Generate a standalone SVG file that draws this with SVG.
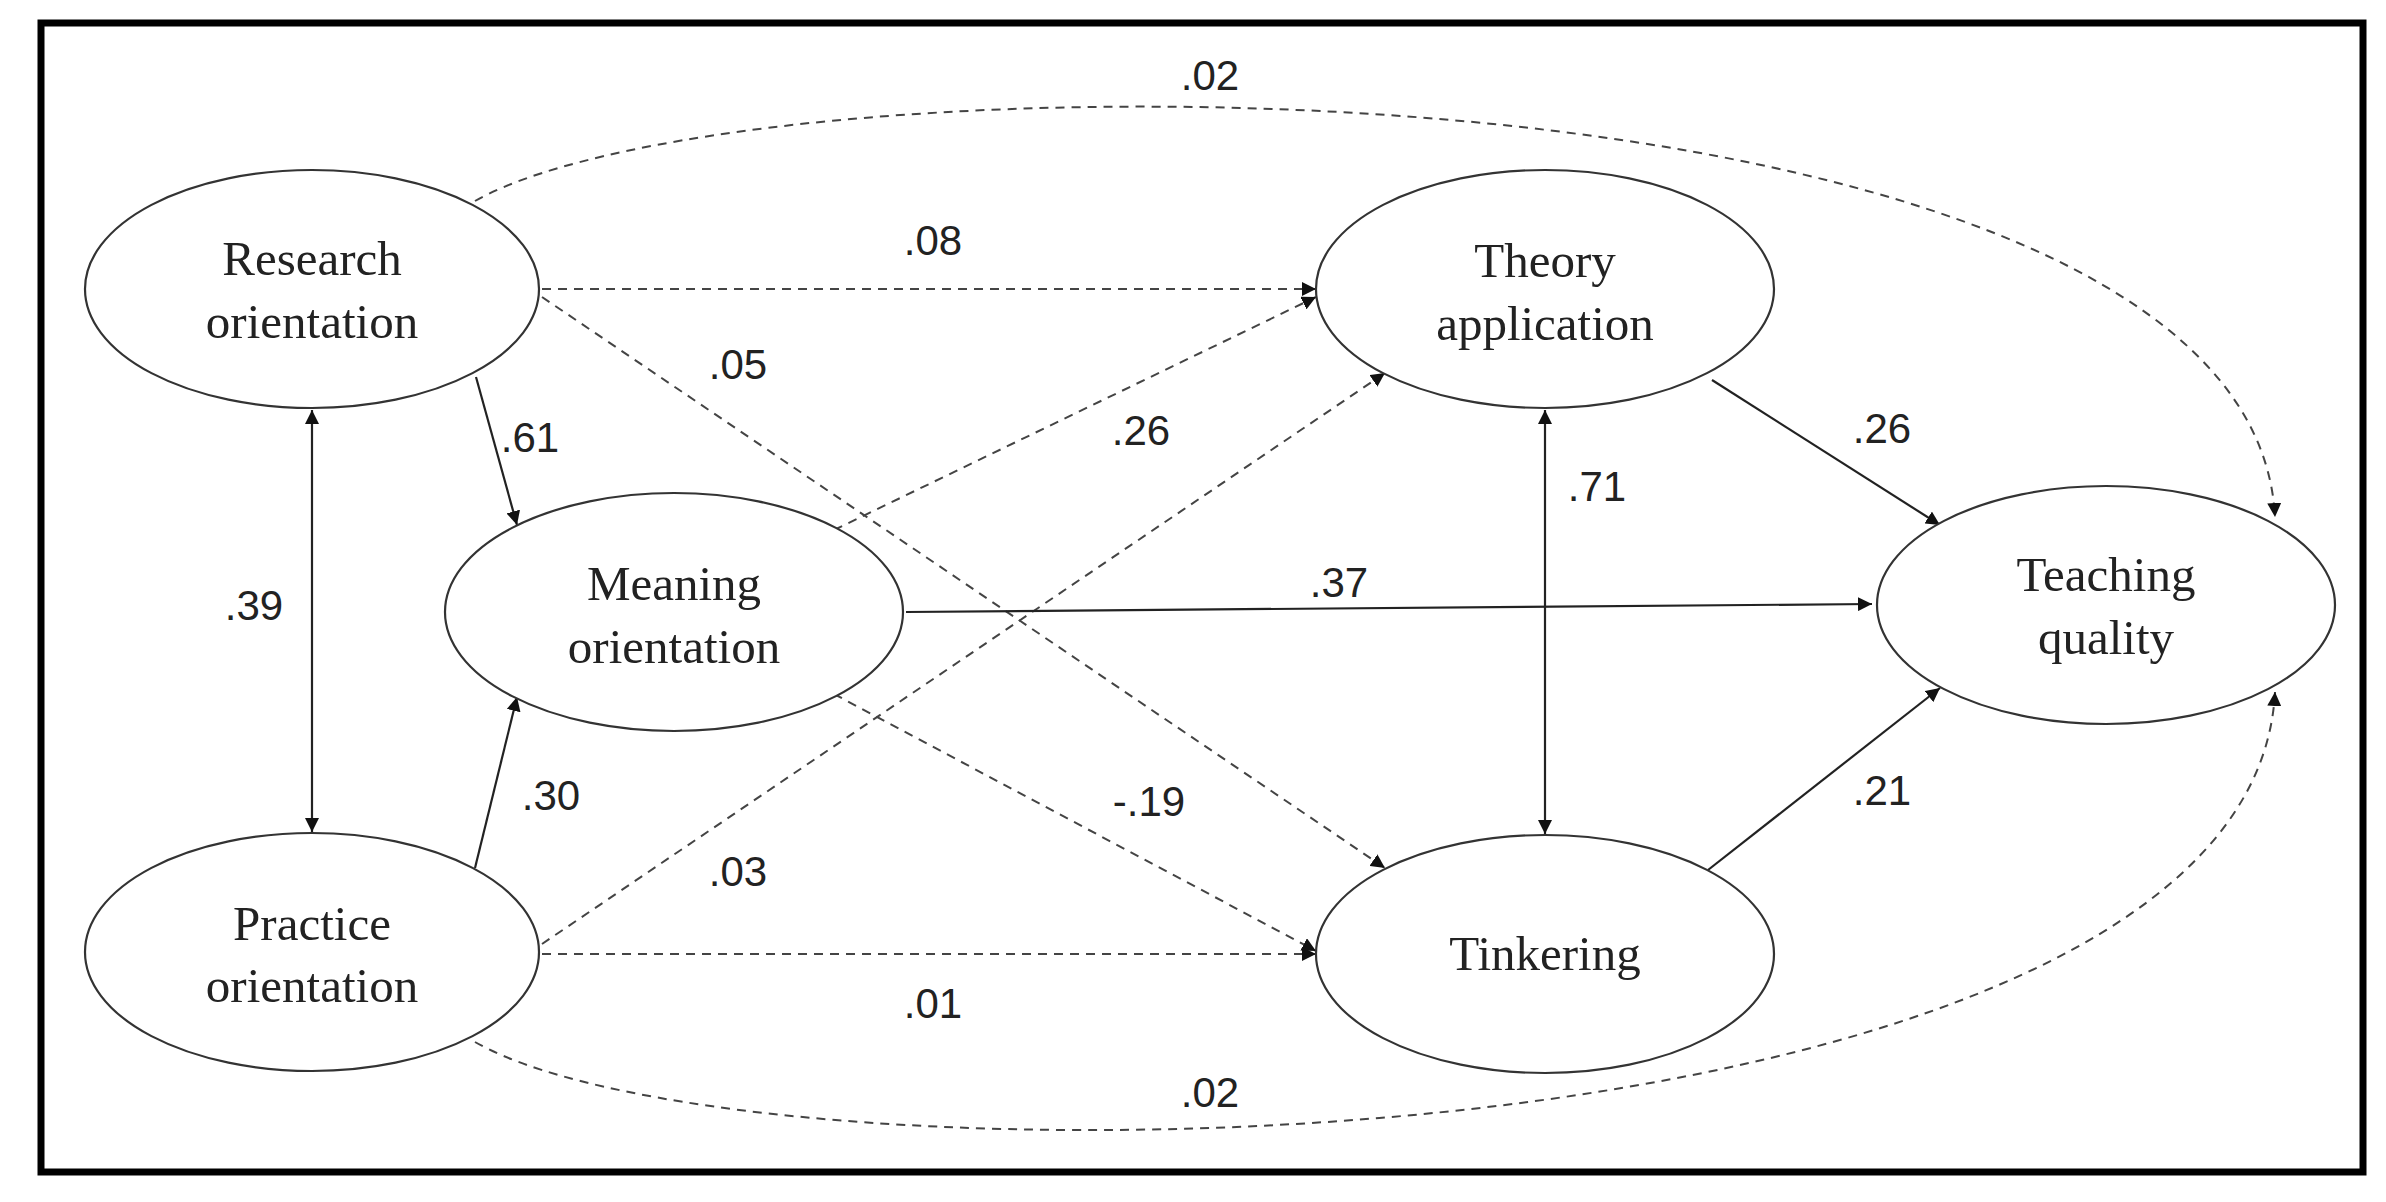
<svg xmlns="http://www.w3.org/2000/svg" width="2386" height="1202" viewBox="0 0 2386 1202">
<defs>
<marker id="ah" viewBox="0 0 10 10" refX="10" refY="5" markerWidth="14" markerHeight="14" markerUnits="userSpaceOnUse" orient="auto-start-reverse"><path d="M0,0 L10,5 L0,10 z" fill="#111"/></marker>
</defs>
<style>
.n{fill:#fff;stroke:#333;stroke-width:2.2}
.t{font-family:"Liberation Serif",serif;font-size:49px;fill:#222;text-anchor:middle}
.l{font-family:"Liberation Sans",sans-serif;font-size:42px;fill:#222;text-anchor:middle}
.s{fill:none;stroke:#222;stroke-width:2.2}
.d{fill:none;stroke:#444;stroke-width:2;stroke-dasharray:9 7}
</style>
<rect x="41" y="23" width="2322" height="1149" fill="#fff" stroke="#000" stroke-width="7"/>
<g id="connectors">
<path class="d" d="M475,201 C750,45 2250,40 2275,517" marker-end="url(#ah)"/>
<path class="d" d="M475,1042 C750,1200 2250,1180 2275,692" marker-end="url(#ah)"/>
<line class="s" x1="312" y1="410" x2="312" y2="832" marker-start="url(#ah)" marker-end="url(#ah)"/>
<line class="s" x1="476" y1="377" x2="517" y2="525" marker-end="url(#ah)"/>
<line class="s" x1="475" y1="868" x2="517" y2="697" marker-end="url(#ah)"/>
<line class="d" x1="542" y1="289" x2="1316" y2="289" marker-end="url(#ah)"/>
<line class="d" x1="542" y1="297" x2="1385" y2="868" marker-end="url(#ah)"/>
<line class="d" x1="834" y1="530" x2="1316" y2="297" marker-end="url(#ah)"/>
<line class="d" x1="542" y1="944" x2="1385" y2="373" marker-end="url(#ah)"/>
<line class="d" x1="834" y1="694" x2="1316" y2="951" marker-end="url(#ah)"/>
<line class="d" x1="542" y1="954" x2="1316" y2="954" marker-end="url(#ah)"/>
<line class="s" x1="906" y1="612" x2="1872" y2="604" marker-end="url(#ah)"/>
<line class="s" x1="1712" y1="380" x2="1940" y2="525" marker-end="url(#ah)"/>
<line class="s" x1="1708" y1="870" x2="1940" y2="688" marker-end="url(#ah)"/>
<line class="s" x1="1545" y1="410" x2="1545" y2="834" marker-start="url(#ah)" marker-end="url(#ah)"/>
<text class="l" x="1210" y="90">.02</text>
<text class="l" x="1210" y="1107">.02</text>
<text class="l" x="254" y="620">.39</text>
<text class="l" x="530" y="452">.61</text>
<text class="l" x="551" y="810">.30</text>
<text class="l" x="933" y="255">.08</text>
<text class="l" x="738" y="379">.05</text>
<text class="l" x="1141" y="445">.26</text>
<text class="l" x="738" y="886">.03</text>
<text class="l" x="1149" y="816">-.19</text>
<text class="l" x="933" y="1018">.01</text>
<text class="l" x="1339" y="597">.37</text>
<text class="l" x="1882" y="443">.26</text>
<text class="l" x="1882" y="805">.21</text>
<text class="l" x="1597" y="501">.71</text>
</g>
<g id="research"><ellipse class="n" cx="312" cy="289" rx="227" ry="119"/><text class="t" x="312" y="275">Research</text><text class="t" x="312" y="338">orientation</text></g>
<g id="practice"><ellipse class="n" cx="312" cy="952" rx="227" ry="119"/><text class="t" x="312" y="940">Practice</text><text class="t" x="312" y="1002">orientation</text></g>
<g id="meaning"><ellipse class="n" cx="674" cy="612" rx="229" ry="119"/><text class="t" x="674" y="600">Meaning</text><text class="t" x="674" y="663">orientation</text></g>
<g id="theory"><ellipse class="n" cx="1545" cy="289" rx="229" ry="119"/><text class="t" x="1545" y="277">Theory</text><text class="t" x="1545" y="340">application</text></g>
<g id="tinkering"><ellipse class="n" cx="1545" cy="954" rx="229" ry="119"/><text class="t" x="1545" y="970">Tinkering</text></g>
<g id="teaching"><ellipse class="n" cx="2106" cy="605" rx="229" ry="119"/><text class="t" x="2106" y="591">Teaching</text><text class="t" x="2106" y="654">quality</text></g>
</svg>
